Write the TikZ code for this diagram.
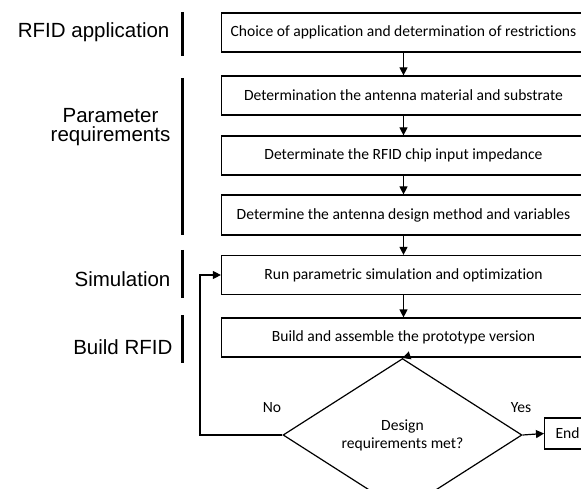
\documentclass[tikz,border=0pt]{standalone}
\usepackage{fontspec}
\setmainfont[RawFeature={-liga}]{Carlito}
\newfontfamily\labelfont{Liberation Sans}
\usetikzlibrary{shapes.geometric,arrows.meta}
\begin{document}
\begin{tikzpicture}[x=1pt,y=-1pt,
  line width=1.2pt,
  boxtext/.style={font=\fontsize{15.6}{18}\selectfont},
  stepbox/.style={draw, rectangle, minimum width=364pt, minimum height=39pt, inner sep=0pt, boxtext},
  flow/.style={-{Triangle[width=8pt,length=8pt]}},
  phase/.style={font=\labelfont\fontsize{20.5}{19}\selectfont, inner sep=0pt},
  bar/.style={line width=3pt}]
\useasboundingbox (0,0) rectangle (581,489);
\clip (0,0) rectangle (581,489);

% process steps
\node[stepbox] (b1) at (403.5,32.5) {\raisebox{1.5pt}{Choice of application and determination of restrictions}};
\node[stepbox] (b2) at (403.5,95.5) {Determination the antenna material and substrate};
\node[stepbox] (b3) at (403.5,155.5) {\raisebox{3pt}{Determinate the RFID chip input impedance}};
\node[stepbox, minimum height=40pt] (b4) at (403.5,215) {Determine the antenna design method and variables};
\node[stepbox] (b5) at (403.5,275) {Run parametric simulation and optimization};
\node[stepbox] (b6) at (403.5,337.5) {\raisebox{2pt}{Build and assemble the prototype version}};

% decision and end
\node[draw, diamond, minimum width=239pt, minimum height=110pt, inner sep=0pt,
      align=center, boxtext] (dec) at (402.5,435) {\raisebox{-3pt}{Design}\\[3pt]requirements met?};
\node[draw, rectangle, anchor=west, minimum width=40pt, minimum height=31pt,
      inner sep=0pt, boxtext] (end) at (544,433.5) {\hspace*{6pt}End\hfill};

% connectors
\draw[flow] (b1.south) -- (b2.north);
\draw[flow] (b2.south) -- (b3.north);
\draw[flow] (b3.south) -- (b4.north);
\draw[flow] (b4.south) -- (b5.north);
\draw[flow] (b5.south) -- (b6.north);
\draw[flow] (b6.south) -- (dec.north);
\draw[flow] (dec.east) -- (end.west);
\coordinate (loop) at (200,435);
\draw[flow] (dec.west) -- (loop) |- (b5.west);

\node[boxtext, inner sep=0pt] (yes) at (521,408) {Yes};
\node[boxtext, inner sep=0pt] (no) at (272,408) {No};

% phase labels and bars
\node[phase, anchor=base east] (l1) at (170,37.5) {RFID application};
\node[phase, align=center, anchor=base] (l2) at (110.5,142) {Parameter\\requirements};
\node[phase, anchor=base east] (l3) at (171,286) {Simulation};
\node[phase, anchor=base east] (l4) at (173,354) {Build RFID};

\draw[bar] (182,12) -- (182,56);
\draw[bar] (182,78) -- (182,235);
\draw[bar] (182,250) -- (182,298);
\draw[bar] (182,315) -- (182,363);
\end{tikzpicture}
\end{document}
